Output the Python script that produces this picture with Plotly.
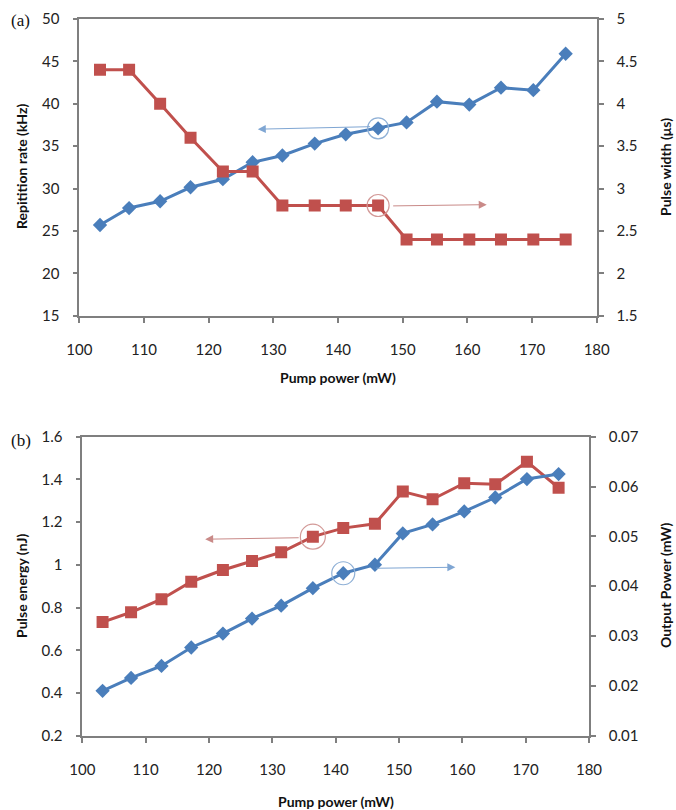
import plotly.graph_objects as go

# ---------------- data ----------------
pump_power = [103.2, 107.7, 112.5, 117.2, 122.2, 126.8, 131.4, 136.4,
              141.2, 146.2, 150.6, 155.3, 160.3, 165.2, 170.2, 175.2]

# panel (a)
rep_rate_khz = [25.7, 27.7, 28.5, 30.15, 31.1, 33.1, 33.9, 35.3,
                36.4, 37.1, 37.8, 40.25, 39.9, 41.9, 41.6, 45.9]
pulse_width_us = [4.4, 4.4, 4.0, 3.6, 3.2, 3.2, 2.8, 2.8,
                  2.8, 2.8, 2.4, 2.4, 2.4, 2.4, 2.4, 2.4]

# panel (b)
pulse_energy_nj = [0.732, 0.778, 0.839, 0.921, 0.976, 1.018, 1.059, 1.132,
                   1.172, 1.192, 1.343, 1.307, 1.382, 1.377, 1.483, 1.361]
output_power_mw = [0.0190, 0.0216, 0.0240, 0.0277, 0.0305, 0.0335, 0.0361, 0.0396,
                   0.0426, 0.0443, 0.0506, 0.0524, 0.0550, 0.0578, 0.0615, 0.0625]

x_ticks = [100, 110, 120, 130, 140, 150, 160, 170, 180]

BLUE = "#4A7EBB"
RED = "#C0504D"
AX = "#7f7f7f"
W, H = 676, 810

def px_x(p):
    return p / W

def px_y(p):
    return 1 - p / H

fig = go.Figure()

fig.add_trace(go.Scatter(x=pump_power, y=rep_rate_khz, xaxis="x", yaxis="y",
                         mode="lines+markers", line=dict(color=BLUE, width=3),
                         marker=dict(symbol="diamond", size=11, color=BLUE),
                         showlegend=False))
fig.add_trace(go.Scatter(x=pump_power, y=pulse_width_us, xaxis="x", yaxis="y2",
                         mode="lines+markers", line=dict(color=RED, width=3),
                         marker=dict(symbol="square", size=12, color=RED),
                         showlegend=False))
fig.add_trace(go.Scatter(x=pump_power, y=pulse_energy_nj, xaxis="x2", yaxis="y3",
                         mode="lines+markers", line=dict(color=RED, width=3),
                         marker=dict(symbol="square", size=12, color=RED),
                         showlegend=False))
fig.add_trace(go.Scatter(x=pump_power, y=output_power_mw, xaxis="x2", yaxis="y4",
                         mode="lines+markers", line=dict(color=BLUE, width=3),
                         marker=dict(symbol="diamond", size=11, color=BLUE),
                         showlegend=False))

tickfont = dict(family="Lato, 'Open Sans', sans-serif", size=15, color="#222")
common = dict(showline=True, linecolor=AX, linewidth=1.6, ticks="outside",
              ticklen=5, tickcolor=AX, tickwidth=1.6, showgrid=False,
              zeroline=False, tickfont=tickfont, automargin=False)
xcommon = dict(ticklabelstandoff=14, **common)
ycommon = dict(ticklabelstandoff=10, **common)

top_dom = [px_y(315.7), px_y(19)]
bot_dom = [px_y(735.7), px_y(436.7)]

fig.update_layout(
    width=W, height=H, margin=dict(l=0, r=0, t=0, b=0),
    paper_bgcolor="white", plot_bgcolor="white",
    xaxis=dict(domain=[px_x(79.3), px_x(596.7)], range=[100, 180],
               tickvals=x_ticks, anchor="y", mirror=True, **xcommon),
    yaxis=dict(domain=top_dom, range=[15, 50], dtick=5, anchor="x", **ycommon),
    yaxis2=dict(range=[1.5, 5], dtick=0.5, overlaying="y", side="right",
                anchor="x", **ycommon),
    xaxis2=dict(domain=[px_x(82.3), px_x(589)], range=[100, 180],
                tickvals=x_ticks, anchor="y3", mirror=True, **xcommon),
    yaxis3=dict(domain=bot_dom, range=[0.2, 1.6], dtick=0.2, anchor="x2",
                tickformat="~g", **ycommon),
    yaxis4=dict(range=[0.01, 0.07], dtick=0.01, overlaying="y3", side="right",
                anchor="x2", tickformat=".2f", **ycommon),
)

title_font = dict(family="Lato, 'Open Sans', sans-serif", size=14, color="#111")
anns = [
    dict(text="<b>Repitition rate (kHz)</b>", x=px_x(21), y=px_y(167), textangle=-90),
    dict(text="<b>Pulse width (μs)</b>", x=px_x(665), y=px_y(167), textangle=-90),
    dict(text="<b>Pump power (mW)</b>", x=px_x(338), y=px_y(377), textangle=0),
    dict(text="<b>Pulse energy (nJ)</b>", x=px_x(21), y=px_y(586), textangle=-90),
    dict(text="<b>Output Power (mW)</b>", x=px_x(665), y=px_y(586), textangle=-90),
    dict(text="<b>Pump power (mW)</b>", x=px_x(336), y=px_y(801), textangle=0),
]
for a in anns:
    fig.add_annotation(xref="paper", yref="paper", showarrow=False,
                       xanchor="center", yanchor="middle", font=title_font, **a)

serif = dict(family="'Liberation Serif', 'Times New Roman', serif", size=17, color="#111")
fig.add_annotation(text="(a)", xref="paper", yref="paper", x=px_x(20), y=px_y(21),
                   xanchor="center", yanchor="middle", showarrow=False, font=serif)
fig.add_annotation(text="(b)", xref="paper", yref="paper", x=px_x(21), y=px_y(440),
                   xanchor="center", yanchor="middle", showarrow=False, font=serif)

# pointer arrows
arrows = [
    dict(xref="x", yref="y", axref="x", ayref="y", x=127.6, y=37.0, ax=145.2, ay=37.3,
         arrowcolor="#7fa6d3"),
    dict(xref="x", yref="y2", axref="x", ayref="y2", x=163.0, y=2.81, ax=148.3, ay=2.795,
         arrowcolor="#c98a88"),
    dict(xref="x2", yref="y3", axref="x2", ayref="y3", x=119.4, y=1.12, ax=134.4, ay=1.127,
         arrowcolor="#c98a88"),
    dict(xref="x2", yref="y4", axref="x2", ayref="y4", x=158.9, y=0.0438, ax=146.2, ay=0.0436,
         arrowcolor="#7fa6d3"),
]
for a in arrows:
    fig.add_annotation(text="", showarrow=True, arrowhead=2, arrowsize=1.6,
                       arrowwidth=1, **a)

# circles around highlighted points
circles = [
    ("x", "y", pump_power[9], rep_rate_khz[9], 10.5, "#8fb0d6"),
    ("x", "y2", pump_power[9], pulse_width_us[9], 11, "#d39a98"),
    ("x2", "y3", pump_power[7], pulse_energy_nj[7], 12.5, "#d39a98"),
    ("x2", "y4", pump_power[8], output_power_mw[8], 11.5, "#8fb0d6"),
]
for xr, yr, cx, cy, r, col in circles:
    fig.add_shape(type="circle", xref=xr, yref=yr, xsizemode="pixel", ysizemode="pixel",
                  xanchor=cx, yanchor=cy, x0=-r, x1=r, y0=-r, y1=r,
                  line=dict(color=col, width=1.2))

fig.write_html("out.html")
